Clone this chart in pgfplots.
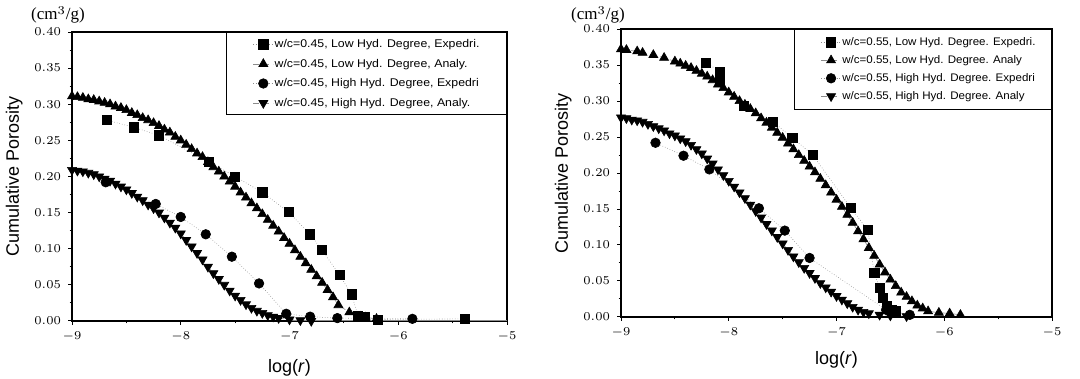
\documentclass[border=0pt]{standalone}
\usepackage{pgfplots}
\pgfplotsset{compat=1.18}
\usepackage{fontspec}
\setmainfont{Liberation Sans}
\newfontfamily\seriffont{Liberation Serif}
\newcommand\hsL[1]{\scalebox{1.10}[1]{#1}\rule{10pt}{0pt}}
\newcommand\hsR[1]{\scalebox{1.05}[1]{#1}\rule{4.5pt}{0pt}}

\pgfplotsset{
 porstyle/.style={
  scale only axis,
  xmin=-9, xmax=-5, ymin=0, ymax=0.40,
  xtick={-9,-8,-7,-6,-5}, minor x tick num=1,
  ytick={0,0.05,0.10,0.15,0.20,0.25,0.30,0.35,0.40}, minor y tick num=1,
  yticklabel style={/pgf/number format/.cd,fixed,fixed zerofill,precision=2},
  tick align=outside, tick pos=left,
  major tick length=2pt, minor tick length=1.2pt,
  tick label style={font=\fontsize{6.2}{7}\selectfont},
  axis line style={line width=0.7pt},
  every tick/.style={black, line width=0.5pt},
  xlabel={log(\textit{r})},
  ylabel={Cumulative Porosity},
  label style={font=\fontsize{9}{10}\selectfont},
  legend cell align=left,
  legend image code/.code={
     \path[draw=none, fill=none] (-10.5pt,-1pt) rectangle (10pt,1pt);
     \draw[#1, mark repeat=2, mark phase=2] plot coordinates {(0pt,0pt) (5pt,0pt) (10pt,0pt)};},
  legend style={at={(1,1)}, anchor=north east, draw=black, line width=0.5pt,
     font=\fontsize{5.6}{6.2}\selectfont, row sep=3pt, inner ysep=2.5pt,
     nodes={inner sep=0.5pt, text height=4.5pt, text depth=1.3pt}},
 },
 expsq/.style={black!45, densely dotted, line width=0.3pt, mark=square*, mark size=2.3pt, mark options={solid, black}},
 anup/.style={black!45, densely dashed, line width=0.3pt, mark=triangle*, mark size=2.6pt, mark options={solid, black}},
 expci/.style={black!45, densely dotted, line width=0.3pt, mark=*, mark size=2.4pt, mark options={solid, black}},
 andn/.style={black!45, densely dashed, line width=0.3pt, mark=triangle*, mark size=2.6pt, mark options={solid, black, rotate=180}},
}

\begin{document}
\begin{tikzpicture}
\path[use as bounding box] (0,0) rectangle (540pt,189.5pt);

% ---------------- left ----------------
\begin{axis}[porstyle, name=L, at={(36pt,29pt)}, anchor=south west,
  width=217.5pt, height=144.5pt,
  ylabel style={yshift=-1pt}, xlabel style={yshift=-2pt}]
\addplot[expsq] coordinates {
(-8.68,0.278) (-8.43,0.268) (-8.20,0.257) (-7.74,0.220) (-7.50,0.200)
(-7.25,0.178) (-7.01,0.151) (-6.81,0.120) (-6.70,0.098) (-6.54,0.064)
(-6.43,0.037) (-6.37,0.007) (-6.31,0.006) (-6.19,0.002) (-5.39,0.003)};
\addlegendentry{\hsL{w/c=0.45, Low Hyd. Degree, Expedri.}}
\addplot[anup] coordinates {
(-9.0,0.311) (-8.95,0.310) (-8.9,0.309) (-8.85,0.307) (-8.8,0.306) (-8.75,0.304)
(-8.7,0.302) (-8.65,0.300) (-8.6,0.297) (-8.55,0.295) (-8.5,0.292) (-8.45,0.288)
(-8.4,0.285) (-8.35,0.281) (-8.3,0.278) (-8.25,0.274) (-8.2,0.270) (-8.15,0.265)
(-8.1,0.261) (-8.05,0.255) (-8.0,0.250) (-7.95,0.244) (-7.9,0.238) (-7.85,0.232)
(-7.8,0.227) (-7.75,0.220) (-7.7,0.213) (-7.65,0.207) (-7.6,0.200) (-7.55,0.193)
(-7.5,0.186) (-7.45,0.178) (-7.4,0.171) (-7.35,0.163) (-7.3,0.156) (-7.25,0.148)
(-7.2,0.140) (-7.15,0.132) (-7.1,0.124) (-7.05,0.115) (-7.0,0.107) (-6.95,0.098)
(-6.9,0.089) (-6.85,0.080) (-6.8,0.071) (-6.75,0.062) (-6.7,0.053) (-6.65,0.043)
(-6.6,0.033) (-6.55,0.022) (-6.45,0.012) (-6.35,0.006) (-6.3,0.005) (-6.2,0.003)};
\addlegendentry{\hsL{w/c=0.45, Low Hyd. Degree, Analy.}}
\addplot[expci] coordinates {
(-8.69,0.192) (-8.23,0.162) (-8.00,0.144) (-7.77,0.120) (-7.53,0.089)
(-7.28,0.052) (-7.03,0.010) (-6.81,0.006) (-6.56,0.004) (-5.87,0.003)};
\addlegendentry{\hsL{w/c=0.45, High Hyd. Degree, Expedri}}
\addplot[andn] coordinates {
(-9.0,0.209) (-8.95,0.208) (-8.9,0.207) (-8.85,0.205) (-8.8,0.203) (-8.75,0.200)
(-8.7,0.197) (-8.65,0.194) (-8.6,0.190) (-8.55,0.186) (-8.5,0.182) (-8.45,0.177)
(-8.4,0.172) (-8.35,0.167) (-8.3,0.161) (-8.25,0.156) (-8.2,0.150) (-8.15,0.143)
(-8.1,0.136) (-8.05,0.129) (-8.0,0.121) (-7.95,0.112) (-7.9,0.103) (-7.85,0.094)
(-7.8,0.085) (-7.75,0.075) (-7.7,0.066) (-7.65,0.058) (-7.6,0.050) (-7.55,0.042)
(-7.5,0.035) (-7.45,0.029) (-7.4,0.023) (-7.35,0.018) (-7.3,0.014) (-7.25,0.011)
(-7.2,0.008) (-7.15,0.006) (-7.1,0.004) (-7.0,0.002) (-6.9,0.001) (-6.8,0.000)};
\addlegendentry{\hsL{w/c=0.45, High Hyd. Degree, Analy.}}
\addplot[black!45, line width=0.4pt, forget plot] coordinates {(-7.0,0.001) (-5.0,0.001)};
\end{axis}
\node[font=\seriffont\fontsize{8.5}{9}\selectfont] at ([xshift=-7pt,yshift=8.5pt]L.north west) {(cm$^{3}$/g)};

% ---------------- right ----------------
\begin{axis}[porstyle, name=R, at={(310.5pt,31pt)}, anchor=south west,
  width=215.5pt, height=144pt,
  legend style={font=\fontsize{5.5}{6.1}\selectfont, row sep=2.2pt, inner ysep=3pt},
  ylabel style={yshift=-1pt}, xlabel style={yshift=0pt}]
\addplot[expsq] coordinates {
(-8.21,0.353) (-8.08,0.341) (-8.08,0.327) (-7.86,0.293) (-7.59,0.271)
(-7.41,0.249) (-7.22,0.225) (-6.87,0.152) (-6.71,0.121) (-6.65,0.061)
(-6.60,0.041) (-6.57,0.027) (-6.53,0.015) (-6.49,0.010) (-6.45,0.008)};
\addlegendentry{\hsR{w/c=0.55, Low Hyd. Degree. Expedri.}}
\addplot[anup] coordinates {
(-9.0,0.372) (-8.95,0.371) (-8.85,0.369) (-8.8,0.367) (-8.7,0.364) (-8.6,0.360)
(-8.5,0.355) (-8.45,0.352) (-8.4,0.349) (-8.35,0.346) (-8.3,0.342) (-8.25,0.338)
(-8.2,0.334) (-8.15,0.329) (-8.1,0.323) (-8.05,0.318) (-8.0,0.312) (-7.95,0.306)
(-7.9,0.300) (-7.85,0.295) (-7.8,0.289) (-7.75,0.283) (-7.7,0.276) (-7.65,0.270)
(-7.6,0.263) (-7.55,0.256) (-7.5,0.249) (-7.45,0.241) (-7.4,0.233) (-7.35,0.225)
(-7.3,0.217) (-7.25,0.209) (-7.2,0.201) (-7.15,0.192) (-7.1,0.183) (-7.05,0.173)
(-7.0,0.163) (-6.95,0.153) (-6.9,0.142) (-6.85,0.131) (-6.8,0.119) (-6.75,0.108)
(-6.7,0.096) (-6.65,0.085) (-6.6,0.073) (-6.55,0.062) (-6.5,0.052) (-6.45,0.043)
(-6.4,0.034) (-6.35,0.028) (-6.3,0.022) (-6.25,0.016) (-6.2,0.012) (-6.15,0.008)
(-6.05,0.006) (-5.95,0.005) (-5.85,0.003)};
\addlegendentry{\hsR{w/c=0.55, Low Hyd. Degree. Analy}}
\addplot[expci] coordinates {
(-8.68,0.242) (-8.42,0.224) (-8.18,0.205) (-7.72,0.151) (-7.48,0.120)
(-7.25,0.082) (-6.54,0.010) (-6.47,0.008) (-6.32,0.003)};
\addlegendentry{\hsR{w/c=0.55, High Hyd. Degree. Expedri}}
\addplot[andn] coordinates {
(-9.0,0.277) (-8.95,0.276) (-8.9,0.274) (-8.85,0.273) (-8.8,0.271) (-8.75,0.268)
(-8.7,0.265) (-8.65,0.262) (-8.6,0.259) (-8.55,0.255) (-8.5,0.252) (-8.45,0.248)
(-8.4,0.244) (-8.35,0.239) (-8.3,0.233) (-8.25,0.227) (-8.2,0.220) (-8.15,0.213)
(-8.1,0.205) (-8.05,0.197) (-8.0,0.189) (-7.95,0.181) (-7.9,0.173) (-7.85,0.165)
(-7.8,0.156) (-7.75,0.147) (-7.7,0.138) (-7.65,0.129) (-7.6,0.120) (-7.55,0.111)
(-7.5,0.102) (-7.45,0.093) (-7.4,0.084) (-7.35,0.076) (-7.3,0.068) (-7.25,0.061)
(-7.2,0.054) (-7.15,0.047) (-7.1,0.041) (-7.05,0.035) (-7.0,0.029) (-6.95,0.024)
(-6.9,0.019) (-6.85,0.014) (-6.8,0.010) (-6.75,0.007) (-6.7,0.005) (-6.6,0.003)
(-6.5,0.002) (-6.35,0.001)};
\addlegendentry{\hsR{w/c=0.55, High Hyd. Degree. Analy}}
\end{axis}
\node[font=\seriffont\fontsize{8.5}{9}\selectfont] at ([xshift=-11.5pt,yshift=7pt]R.north west) {(cm$^{3}$/g)};
\end{tikzpicture}
\end{document}
